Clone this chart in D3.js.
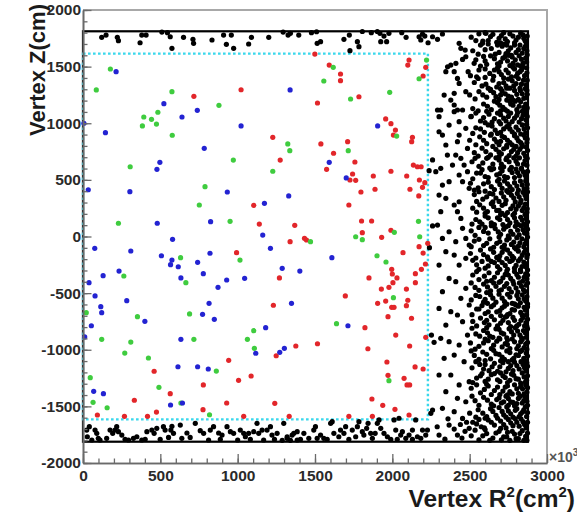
<!DOCTYPE html>
<html><head><meta charset="utf-8">
<script src="https://cdn.jsdelivr.net/npm/d3@7"></script>
<style>html,body{margin:0;padding:0;background:#fff;}svg{display:block;}</style>
</head><body>
<svg id="chart" width="577" height="519"></svg>
<script>
// Axis ticks
const xTicks = [0, 500, 1000, 1500, 2000, 2500, 3000];
const yTicks = [-2000, -1500, -1000, -500, 0, 500, 1000, 1500, 2000];

// Detector outline and fiducial volume (R^2 in 10^3 cm^2, Z in cm)
const detectorR2 = 2877, detectorZ = 1812;
const fiducialR2 = 2230, fiducialZ = 1615;

// Selected vertices, [R^2, Z]
const redPts = [[1022,1296],[717,1238],[1104,275],[1140,110],[1499,1611],[1592,1514],[1665,1435],[1665,1376],[2100,1514],[2108,1558],[2216,1494],[2199,1417],[1784,1234],[1516,1179],[1957,1038],[1991,996],[2020,940],[2007,896],[2130,876],[2125,837],[1227,876],[1538,817],[1711,837],[1620,735],[1275,675],[1758,658],[1575,593],[2136,631],[2162,616],[2186,616],[1991,576],[1743,552],[1877,534],[2093,534],[1726,499],[1763,496],[2175,499],[2210,475],[2195,434],[2114,417],[1888,417],[1797,393],[2171,358],[1719,278],[1369,99],[1801,137],[1866,137],[1806,34],[1991,55],[1931,-7],[993,-143],[942,-1093],[460,-1190],[1087,-1232],[1006,-1270],[778,-1311],[564,-1388],[332,-1446],[929,-1470],[475,-1550],[776,-1529],[93,-1576],[268,-1588],[417,-1588],[1039,-1588],[1339,-46],[1432,-16],[1445,-31],[2069,-143],[2173,-90],[2199,-146],[2229,-60],[2214,-243],[2188,-290],[2149,-328],[2149,-408],[1270,-366],[1849,-366],[1996,-290],[2000,-331],[2030,-366],[2004,-408],[1978,-449],[1929,-464],[2091,-464],[1696,-525],[1957,-570],[1905,-590],[2100,-563],[2091,-611],[1996,-625],[2011,-625],[1231,-607],[1972,-708],[2124,-722],[1823,-805],[2022,-870],[2216,-890],[1376,-967],[1516,-947],[1842,-991],[2112,-967],[1249,-1053],[1965,-1108],[2147,-1152],[2199,-1170],[1972,-1226],[2076,-1252],[2095,-1311],[2112,-1311],[1868,-1435],[1240,-1473],[1938,-1491],[2017,-1526],[2108,-1576],[1333,-1588],[1719,-1588],[1871,-1588]];

const greenPts = [[177,1479],[86,1294],[575,1279],[879,1158],[484,1097],[393,1055],[443,1035],[475,993],[384,976],[577,894],[972,675],[305,616],[789,440],[752,278],[229,117],[951,134],[1618,1494],[1557,1373],[2221,1558],[2173,1393],[1983,1273],[1730,1214],[2028,887],[1324,817],[1337,758],[1715,758],[1227,576],[2169,134],[2013,37],[1763,-2],[2177,-2],[1471,-46],[1806,-28],[1901,-170],[1959,-225],[2007,-540],[1639,-770],[1978,-1273],[631,-187],[1015,-208],[264,-349],[665,-408],[21,-673],[352,-708],[689,-684],[121,-908],[309,-932],[717,-908],[1104,-832],[1063,-908],[1108,-987],[270,-1029],[423,-1073],[862,-1188],[47,-1247],[491,-1332],[65,-1464],[633,-1470],[156,-1512],[818,-1574]];

const bluePts = [[214,1455],[523,1173],[739,1114],[640,1055],[1022,976],[6,1000],[145,917],[784,779],[497,655],[478,593],[34,413],[303,396],[933,393],[480,117],[825,131],[1173,293],[1162,13],[579,-25],[1339,1294],[1905,976],[1592,655],[1702,517],[1330,358],[76,-104],[309,-128],[507,-170],[575,-208],[566,-249],[616,-267],[741,-228],[821,-148],[233,-305],[130,-346],[39,-408],[633,-366],[778,-328],[929,-384],[1045,-369],[873,-449],[78,-525],[283,-567],[815,-590],[115,-620],[121,-673],[400,-749],[773,-687],[849,-731],[54,-788],[11,-887],[633,-908],[1117,-1031],[614,-1150],[741,-1150],[810,-1170],[69,-1367],[132,-1388],[643,-1470],[566,-1488],[1212,-104],[1609,-187],[1288,-281],[1402,-305],[1348,-590],[1713,-788],[1181,-805],[1302,-987],[1272,-1023]];

// Rejected vertices: top cap, bottom cap, outer barrel (sparse and dense parts)
const topCapPts = [[121,1759],[149,1779],[222,1759],[229,1729],[369,1711],[380,1779],[408,1779],[510,1805],[546,1800],[564,1764],[575,1662],[650,1759],[711,1741],[715,1706],[834,1735],[909,1779],[927,1697],[959,1779],[974,1662],[1071,1700],[1089,1759],[1201,1759],[1294,1805],[1326,1779],[1341,1794],[1395,1779],[1477,1800],[1510,1808],[1514,1706],[1536,1720],[1687,1741],[1722,1779],[1726,1641],[1774,1720],[1784,1676],[1806,1810],[1864,1800],[1903,1810],[1920,1794],[1946,1770],[1925,1720],[1963,1720],[1978,1794],[2061,1800],[2089,1759],[2173,1764],[2184,1735],[2195,1788],[2210,1770],[2231,1711],[2260,1764],[2292,1741],[2324,1788]];

const bottomCapPts = [[24,-1709],[41,-1679],[78,-1709],[89,-1738],[99,-1782],[28,-1768],[110,-1797],[175,-1709],[192,-1738],[207,-1709],[218,-1679],[229,-1723],[272,-1791],[294,-1797],[326,-1782],[380,-1797],[402,-1791],[413,-1723],[445,-1709],[460,-1738],[477,-1694],[520,-1679],[531,-1709],[568,-1709],[575,-1676],[585,-1738],[629,-1665],[672,-1735],[693,-1774],[726,-1650],[758,-1715],[823,-1709],[844,-1679],[877,-1735],[888,-1791],[931,-1679],[953,-1723],[974,-1738],[1000,-1797],[1017,-1709],[1039,-1738],[1050,-1768],[1071,-1738],[1104,-1723],[1125,-1650],[1136,-1738],[1168,-1797],[1190,-1709],[1212,-1679],[1238,-1791],[1255,-1738],[1288,-1800],[1298,-1650],[1320,-1782],[1363,-1738],[1385,-1723],[57,-1797],[153,-1782],[251,-1753],[348,-1768],[499,-1791],[553,-1774],[639,-1782],[780,-1738],[812,-1797],[899,-1753],[1082,-1791],[1158,-1709],[1222,-1753],[1341,-1800],[1320,-1768],[1352,-1753],[1385,-1797],[1428,-1738],[1460,-1782],[1492,-1709],[1503,-1679],[1536,-1753],[1557,-1782],[1601,-1650],[1611,-1635],[1622,-1738],[1654,-1768],[1687,-1738],[1719,-1791],[1741,-1709],[1774,-1679],[1784,-1635],[1806,-1723],[1816,-1753],[1834,-1694],[1843,-1650],[1860,-1738],[1871,-1782],[1903,-1650],[1914,-1620],[1925,-1694],[1946,-1738],[1968,-1768],[2011,-1620],[2022,-1709],[2043,-1605],[2054,-1753],[2065,-1723],[2087,-1782],[2108,-1753],[2130,-1709],[2151,-1620],[2162,-1768],[2184,-1782],[2216,-1753],[2227,-1709],[2249,-1561],[2260,-1532],[1406,-1791],[1514,-1782],[1579,-1791],[1665,-1709],[1698,-1679],[1763,-1768],[1889,-1738],[1990,-1791],[2032,-1791],[2130,-1791],[2195,-1709]];

const outerSparsePts = [[2432,1706],[2443,1662],[2583,1706],[2605,1794],[2357,1499],[2378,1514],[2411,1529],[2346,1455],[2400,1455],[2454,1564],[2490,1455],[2529,1529],[2292,1117],[2313,1117],[2400,1102],[2421,1117],[2454,1117],[2400,1264],[2378,1205],[2400,1161],[2335,1249],[2475,1279],[2421,1396],[2432,1352],[2471,1646],[2475,1587],[2302,1058],[2367,984],[2324,896],[2432,1014],[2475,955],[2508,1058],[2302,925],[2432,896],[2421,837],[2346,808],[2356,719],[2410,719],[2443,690],[2486,778],[2313,602],[2281,572],[2389,631],[2464,631],[2432,543],[2486,572],[2324,454],[2367,484],[2454,484],[2497,425],[2302,366],[2346,337],[2400,278],[2432,307],[2313,219],[2421,219],[2443,160],[2292,101],[2367,42],[2324,-17],[2454,72],[2475,-17],[2410,-46],[2497,-75],[2346,-134],[2400,-164],[2302,-252],[2475,-193],[2432,-252],[2367,-370],[2410,-399],[2324,-487],[2475,-458],[2443,-546],[2302,-635],[2378,-664],[2421,-693],[2497,-605],[2346,-782],[2454,-752],[2313,-899],[2367,-929],[2486,-870],[2432,-958],[2400,-1047],[2335,-1076],[2464,-1105],[2302,-1223],[2378,-1223],[2432,-1311],[2497,-1282],[2346,-1370],[2421,-1429],[2475,-1459],[2324,-1517],[2400,-1547],[2454,-1606],[2367,-1665],[2302,-1753],[2421,-1753],[2497,-1694],[2260,676],[2260,93],[2238,581],[2240,-99],[2253,-870],[2270,-934],[2340,-1790],[2400,-1700],[2450,-1780],[2480,-1640],[2290,-1680],[2360,-1610],[2440,-1660],[2470,-1720]];

const outerDensePts = [
[2510,1760],[2560,1790],[2620,1730],[2650,1785],[2690,1750],[2720,1800],[2745,1720],[2780,1770],[2800,1735],[2830,1795],[2850,1750],[2865,1715],[2600,1800],[2700,1710],
[2520,1640],[2570,1690],[2640,1660],[2665,1610],[2710,1680],[2750,1640],[2770,1600],[2790,1690],[2815,1650],[2840,1620],[2860,1680],[2870,1640],[2740,1690],
[2540,1560],[2590,1590],[2610,1520],[2660,1570],[2700,1540],[2730,1590],[2760,1510],[2795,1560],[2820,1595],[2845,1530],[2862,1575],[2690,1505],[2830,1505],
[2505,1420],[2560,1470],[2630,1440],[2680,1490],[2705,1430],[2735,1470],[2770,1410],[2790,1480],[2810,1440],[2835,1470],[2855,1420],[2868,1490],[2600,1405],
[2530,1360],[2580,1330],[2650,1380],[2675,1320],[2720,1360],[2750,1390],[2760,1310],[2800,1350],[2825,1310],[2848,1380],[2866,1340],[2700,1305],[2620,1310],
[2500,1250],[2560,1280],[2610,1230],[2655,1270],[2690,1210],[2730,1260],[2770,1230],[2790,1290],[2815,1210],[2840,1260],[2862,1225],[2870,1290],[2740,1205],
[2520,1130],[2590,1170],[2640,1120],[2680,1180],[2715,1140],[2745,1105],[2780,1160],[2805,1120],[2830,1190],[2850,1140],[2868,1110],[2760,1195],[2700,1110],
[2510,1060],[2570,1020],[2625,1080],[2660,1040],[2700,1075],[2735,1020],[2765,1090],[2790,1045],[2820,1010],[2845,1070],[2864,1030],[2600,1005],[2810,1095],
[2540,960],[2595,920],[2645,975],[2680,910],[2720,950],[2755,990],[2775,925],[2800,965],[2830,905],[2852,950],[2868,990],[2700,995],[2640,905],
[2500,850],[2565,880],[2610,820],[2660,860],[2690,810],[2725,875],[2760,830],[2790,890],[2815,845],[2840,810],[2860,870],[2870,830],[2740,805],
[2530,740],[2580,780],[2635,720],[2670,770],[2705,730],[2740,790],[2770,750],[2800,710],[2825,770],[2850,735],[2866,790],[2690,705],[2800,795],
[2515,660],[2560,620],[2610,690],[2650,640],[2690,675],[2720,615],[2755,660],[2785,695],[2810,640],[2835,605],[2858,670],[2870,630],[2740,695],
[2545,560],[2600,530],[2640,590],[2675,545],[2710,580],[2745,520],[2775,565],[2800,595],[2822,535],[2848,570],[2866,510],[2690,505],[2580,590],
[2505,470],[2555,430],[2620,480],[2660,415],[2695,460],[2725,490],[2760,440],[2790,475],[2815,410],[2840,455],[2862,490],[2870,425],[2740,405],
[2530,370],[2585,330],[2630,380],[2670,340],[2705,385],[2735,320],[2770,365],[2795,305],[2820,350],[2845,390],[2865,335],[2650,305],[2760,395],
[2520,250],[2565,280],[2615,220],[2655,265],[2690,230],[2730,290],[2765,245],[2790,205],[2815,270],[2840,230],[2860,285],[2870,215],[2710,205],
[2540,150],[2600,180],[2640,120],[2680,165],[2715,105],[2745,150],[2780,190],[2800,130],[2830,170],[2850,110],[2866,160],[2700,195],[2580,110],
[2510,50],[2560,80],[2620,30],[2665,70],[2700,20],[2735,85],[2765,45],[2795,90],[2820,15],[2845,60],[2862,95],[2870,25],[2750,5],
[2530,-40],[2590,-80],[2630,-20],[2675,-60],[2710,-95],[2740,-30],[2770,-70],[2805,-10],[2825,-55],[2850,-90],[2866,-35],[2690,-5],[2790,-98],
[2505,-150],[2570,-120],[2615,-180],[2655,-140],[2695,-170],[2725,-110],[2760,-150],[2785,-190],[2815,-130],[2840,-165],[2862,-115],[2870,-185],[2740,-195],
[2545,-250],[2600,-280],[2640,-220],[2680,-265],[2710,-230],[2745,-290],[2775,-210],[2800,-255],[2828,-295],[2850,-225],[2866,-270],[2690,-205],[2580,-220],
[2520,-340],[2560,-380],[2625,-320],[2660,-360],[2700,-395],[2730,-335],[2765,-370],[2790,-310],[2815,-360],[2842,-395],[2862,-330],[2870,-375],[2740,-305],
[2535,-450],[2590,-420],[2635,-480],[2670,-440],[2705,-470],[2740,-415],[2770,-490],[2800,-455],[2822,-410],[2848,-470],[2866,-430],[2690,-405],[2610,-495],
[2510,-560],[2565,-530],[2615,-590],[2650,-545],[2690,-510],[2725,-575],[2760,-535],[2790,-595],[2815,-550],[2840,-515],[2862,-570],[2870,-530],[2740,-598],
[2545,-640],[2600,-680],[2640,-620],[2675,-665],[2710,-630],[2745,-690],[2775,-645],[2800,-605],[2830,-670],[2852,-625],[2868,-690],[2700,-698],[2580,-610],
[2520,-750],[2570,-720],[2625,-780],[2660,-735],[2700,-765],[2730,-710],[2765,-795],[2790,-740],[2818,-775],[2845,-715],[2864,-760],[2870,-795],[2740,-705],
[2540,-860],[2590,-830],[2630,-880],[2670,-815],[2705,-850],[2740,-895],[2770,-840],[2795,-805],[2825,-870],[2848,-830],[2866,-890],[2690,-898],[2610,-805],
[2505,-940],[2560,-970],[2620,-920],[2655,-960],[2695,-905],[2730,-945],[2760,-990],[2790,-930],[2815,-965],[2840,-910],[2862,-950],[2870,-995],[2745,-915],
[2530,-1050],[2585,-1020],[2635,-1080],[2670,-1035],[2710,-1065],[2740,-1010],[2775,-1090],[2800,-1045],[2828,-1015],[2850,-1075],[2866,-1030],[2700,-1098],[2600,-1095],
[2515,-1160],[2565,-1130],[2625,-1185],[2660,-1120],[2695,-1150],[2735,-1195],[2765,-1140],[2790,-1110],[2820,-1170],[2845,-1130],[2864,-1190],[2870,-1115],[2750,-1105],
[2545,-1250],[2600,-1280],[2640,-1220],[2680,-1265],[2715,-1230],[2745,-1290],[2770,-1215],[2800,-1255],[2830,-1295],[2852,-1240],[2868,-1270],[2700,-1205],[2580,-1210],
[2510,-1340],[2570,-1380],[2620,-1320],[2660,-1360],[2695,-1395],[2730,-1330],[2760,-1370],[2790,-1310],[2815,-1385],[2842,-1345],[2862,-1310],[2870,-1375],[2745,-1398],
[2535,-1450],[2590,-1420],[2640,-1480],[2675,-1440],[2705,-1470],[2735,-1410],[2765,-1460],[2790,-1495],[2815,-1430],[2840,-1470],[2860,-1415],[2870,-1455],[2750,-1490],
[2500,-1560],[2555,-1530],[2610,-1590],[2650,-1545],[2690,-1510],[2720,-1575],[2750,-1540],[2780,-1595],[2805,-1520],[2830,-1565],[2850,-1530],[2868,-1590],[2740,-1505],
[2520,-1640],[2575,-1680],[2620,-1620],[2660,-1665],[2700,-1630],[2735,-1690],[2765,-1645],[2795,-1610],[2820,-1675],[2845,-1635],[2865,-1690],[2700,-1695],[2600,-1605],
[2510,-1760],[2560,-1795],[2610,-1740],[2650,-1780],[2690,-1720],[2720,-1770],[2760,-1800],[2790,-1745],[2815,-1785],[2840,-1715],[2862,-1765],[2870,-1800],[2745,-1730]
];

const outerDensePts2 = [
[2585,1725],[2635,1765],[2675,1715],[2705,1775],[2730,1745],[2760,1790],[2790,1710],[2815,1760],[2845,1780],[2858,1730],[2872,1770],[2540,1730],
[2555,1610],[2600,1650],[2690,1625],[2725,1700],[2735,1615],[2765,1665],[2800,1625],[2825,1690],[2850,1660],[2872,1605],[2680,1690],[2620,1700],
[2570,1505],[2635,1595],[2680,1525],[2715,1575],[2745,1550],[2775,1585],[2780,1530],[2810,1515],[2835,1565],[2868,1540],[2755,1600],[2600,1550],
[2545,1410],[2600,1480],[2655,1415],[2690,1455],[2720,1400],[2750,1445],[2780,1495],[2800,1415],[2825,1455],[2845,1495],[2870,1445],[2660,1470],
[2555,1395],[2605,1345],[2635,1300],[2690,1350],[2735,1330],[2775,1375],[2785,1330],[2815,1395],[2835,1345],[2860,1305],[2872,1380],[2740,1310],
[2535,1215],[2585,1250],[2635,1290],[2670,1235],[2710,1285],[2750,1240],[2780,1205],[2805,1255],[2828,1290],[2850,1220],[2872,1255],[2700,1250],
[2555,1110],[2615,1150],[2660,1195],[2695,1160],[2730,1120],[2765,1170],[2795,1195],[2820,1150],[2840,1105],[2862,1170],[2872,1135],[2610,1105],
[2540,1090],[2590,1050],[2645,1010],[2680,1090],[2720,1045],[2750,1060],[2775,1015],[2805,1070],[2835,1040],[2858,1095],[2872,1060],[2690,1015],
[2520,910],[2570,950],[2620,985],[2665,940],[2700,920],[2740,970],[2790,905],[2815,940],[2840,985],[2862,915],[2874,960],[2760,950],
[2540,810],[2590,850],[2635,895],[2675,835],[2710,885],[2745,850],[2775,810],[2805,870],[2830,830],[2852,895],[2872,860],[2700,840],
[2555,710],[2605,750],[2650,795],[2690,745],[2720,775],[2755,715],[2785,770],[2810,740],[2838,795],[2860,710],[2874,760],[2620,700],
[2535,690],[2585,650],[2630,605],[2670,695],[2705,640],[2735,680],[2770,610],[2800,665],[2822,695],[2848,640],[2872,690],[2700,605],
[2520,510],[2570,560],[2620,520],[2655,600],[2695,555],[2725,530],[2760,590],[2790,520],[2810,565],[2835,595],[2858,540],[2874,575],
[2530,410],[2590,465],[2640,440],[2680,490],[2710,425],[2745,465],[2775,415],[2805,445],[2828,490],[2852,420],[2872,460],[2600,400],
[2560,395],[2610,350],[2650,375],[2690,310],[2720,350],[2750,390],[2785,340],[2808,380],[2832,320],[2858,365],[2874,395],[2545,310],
[2545,215],[2590,250],[2640,290],[2675,230],[2710,275],[2745,210],[2780,270],[2800,240],[2828,295],[2850,255],[2872,245],[2600,205],
[2515,110],[2565,130],[2620,165],[2660,105],[2695,150],[2730,185],[2760,120],[2790,165],[2815,105],[2840,145],[2858,195],[2874,130],
[2535,10],[2590,45],[2640,95],[2685,40],[2720,65],[2750,95],[2780,20],[2810,55],[2832,95],[2855,30],[2874,65],[2600,80],
[2510,-90],[2560,-25],[2610,-60],[2655,-95],[2695,-45],[2725,-75],[2755,-15],[2785,-50],[2815,-85],[2838,-20],[2858,-65],[2874,-5],
[2540,-190],[2590,-160],[2635,-110],[2675,-185],[2710,-140],[2745,-120],[2775,-175],[2800,-110],[2828,-195],[2852,-140],[2874,-160],[2620,-200],
[2520,-210],[2560,-290],[2620,-260],[2660,-230],[2695,-290],[2730,-255],[2760,-220],[2790,-280],[2815,-215],[2838,-265],[2860,-240],[2874,-295],
[2545,-310],[2595,-350],[2640,-390],[2680,-320],[2715,-365],[2750,-340],[2780,-395],[2805,-335],[2830,-310],[2852,-360],[2874,-340],[2610,-395],
[2510,-410],[2560,-475],[2615,-445],[2655,-410],[2690,-480],[2725,-440],[2755,-460],[2785,-420],[2812,-490],[2835,-440],[2858,-485],[2874,-410],
[2540,-520],[2590,-580],[2635,-515],[2670,-580],[2710,-545],[2745,-510],[2775,-590],[2805,-520],[2828,-585],[2852,-550],[2874,-595],[2600,-555],
[2515,-690],[2560,-640],[2620,-665],[2655,-605],[2695,-655],[2725,-615],[2760,-680],[2790,-650],[2815,-615],[2840,-695],[2860,-650],[2874,-620],
[2545,-790],[2595,-760],[2640,-705],[2680,-790],[2715,-740],[2750,-760],[2780,-715],[2805,-790],[2832,-740],[2855,-790],[2874,-730],[2610,-740],
[2515,-810],[2565,-880],[2615,-850],[2650,-890],[2690,-820],[2720,-860],[2755,-815],[2785,-870],[2810,-835],[2836,-895],[2860,-850],[2874,-815],
[2535,-995],[2590,-940],[2640,-990],[2675,-925],[2710,-975],[2745,-955],[2775,-905],[2805,-990],[2830,-930],[2852,-980],[2874,-935],[2600,-905],
[2510,-1010],[2560,-1085],[2610,-1040],[2655,-1005],[2690,-1040],[2725,-1085],[2760,-1025],[2785,-1075],[2815,-1050],[2838,-1005],[2860,-1095],[2874,-1055],
[2540,-1105],[2590,-1170],[2645,-1150],[2680,-1190],[2715,-1115],[2750,-1165],[2780,-1185],[2805,-1140],[2832,-1105],[2855,-1160],[2874,-1145],[2600,-1130],
[2520,-1290],[2570,-1230],[2620,-1260],[2660,-1210],[2695,-1280],[2730,-1245],[2760,-1270],[2785,-1225],[2815,-1260],[2840,-1205],[2860,-1285],[2874,-1230],
[2545,-1310],[2595,-1350],[2640,-1395],[2680,-1330],[2715,-1365],[2745,-1320],[2775,-1390],[2805,-1345],[2830,-1325],[2852,-1390],[2874,-1335],[2610,-1305],
[2515,-1410],[2560,-1490],[2615,-1445],[2655,-1495],[2690,-1425],[2720,-1460],[2750,-1430],[2780,-1465],[2805,-1475],[2828,-1410],[2850,-1450],[2874,-1490],
[2540,-1595],[2585,-1560],[2635,-1520],[2670,-1580],[2710,-1545],[2735,-1595],[2765,-1565],[2795,-1535],[2820,-1590],[2842,-1550],[2860,-1505],[2874,-1555],
[2545,-1655],[2595,-1690],[2640,-1640],[2680,-1605],[2720,-1660],[2750,-1615],[2780,-1670],[2805,-1640],[2832,-1610],[2855,-1660],[2874,-1640],[2560,-1615],
[2535,-1710],[2585,-1760],[2630,-1800],[2670,-1735],[2705,-1795],[2740,-1770],[2775,-1720],[2800,-1785],[2825,-1740],[2850,-1800],[2874,-1735],[2600,-1705]
];

const svg = d3.select('#chart');
const FONT = '"Liberation Sans", Arial, Helvetica, sans-serif';

const x = d3.scaleLinear().domain([0, 3000]).range([83, 547]);
const y = d3.scaleLinear().domain([-2000, 2000]).range([463, 10]);

// frame (top and right edges)
svg.append('path')
  .attr('d', `M${x(0)},${y(2000)}H${x(3000)}V${y(-2000)}`)
  .attr('fill', 'none').attr('stroke', '#a8a8a8').attr('stroke-width', 2);

// detector outline
svg.append('rect')
  .attr('x', x(0)).attr('y', y(detectorZ))
  .attr('width', x(detectorR2) - x(0)).attr('height', y(-detectorZ) - y(detectorZ))
  .attr('fill', 'none').attr('stroke', '#000').attr('stroke-width', 2.2);

// fiducial volume
svg.append('rect')
  .attr('x', x(0)).attr('y', y(fiducialZ))
  .attr('width', x(fiducialR2) - x(0)).attr('height', y(-fiducialZ) - y(fiducialZ))
  .attr('fill', 'none').attr('stroke', '#3ad8ec').attr('stroke-width', 2.4)
  .attr('stroke-dasharray', '2.6,2.4');

const R = 2.6;
function drawPts(data, color) {
  svg.append('g').selectAll('circle').data(data).join('circle')
    .attr('cx', d => x(d[0])).attr('cy', d => y(d[1]))
    .attr('r', R).attr('fill', color);
}
drawPts(topCapPts, '#000');
drawPts(bottomCapPts, '#000');
drawPts(outerSparsePts, '#000');
drawPts(outerDensePts, '#000');
drawPts(outerDensePts2, '#000');
drawPts(redPts, '#e2262a');
drawPts(greenPts, '#3fcc3f');
drawPts(bluePts, '#2323d2');

// axes
const axisColor = '#6a6a6a';
const fmt = d => String(d);
function styleAxis(g) {
  g.selectAll('.domain').attr('stroke', axisColor).attr('stroke-width', 1.6);
  g.selectAll('.tick line').attr('stroke', axisColor).attr('stroke-width', 1.3);
  g.selectAll('text').attr('font-family', FONT).attr('font-weight', 'bold')
    .attr('font-size', 15.5).attr('fill', '#2a2a2a');
}
const yMinor = svg.append('g').attr('transform', `translate(${x(0)},0)`)
  .call(d3.axisLeft(y).tickValues(d3.range(-2000, 2001, 100)).tickSize(-4.5).tickSizeOuter(0).tickFormat(''));
styleAxis(yMinor);
const yMajor = svg.append('g').attr('transform', `translate(${x(0)},0)`)
  .call(d3.axisLeft(y).tickValues(yTicks).tickSize(-8.5).tickSizeOuter(0).tickPadding(2).tickFormat(fmt));
styleAxis(yMajor);
const xMinor = svg.append('g').attr('transform', `translate(0,${y(-2000)})`)
  .call(d3.axisBottom(x).tickValues(d3.range(0, 3001, 100)).tickSize(-4.5).tickSizeOuter(0).tickFormat(''));
styleAxis(xMinor);
const xMajor = svg.append('g').attr('transform', `translate(0,${y(-2000)})`)
  .call(d3.axisBottom(x).tickValues(xTicks).tickSize(-9).tickSizeOuter(0).tickPadding(7).tickFormat(fmt));
styleAxis(xMajor);

// exponent label of the R^2 axis
const expo = svg.append('text').attr('x', 549).attr('y', 462)
  .attr('font-family', FONT).attr('font-weight', 'bold').attr('font-size', 14).attr('fill', '#555');
expo.append('tspan').text('\u00d710');
expo.append('tspan').attr('dy', -6).attr('font-size', 10).text('3');

// axis titles
const xt = svg.append('text').attr('x', 575).attr('y', 507).attr('text-anchor', 'end')
  .attr('font-family', FONT).attr('font-weight', 'bold').attr('font-size', 24.5).attr('fill', '#1a1a1a');
xt.append('tspan').text('Vertex R');
xt.append('tspan').attr('dy', -10).attr('font-size', 15).text('2');
xt.append('tspan').attr('dy', 10).text('(cm');
xt.append('tspan').attr('dy', -10).attr('font-size', 15).text('2');
xt.append('tspan').attr('dy', 10).text(')');

svg.append('text').attr('transform', 'translate(45,4) rotate(-90)').attr('text-anchor', 'end')
  .attr('font-family', FONT).attr('font-weight', 'bold').attr('font-size', 22).attr('fill', '#1a1a1a')
  .text('Vertex Z(cm)');
</script>
</body></html>
